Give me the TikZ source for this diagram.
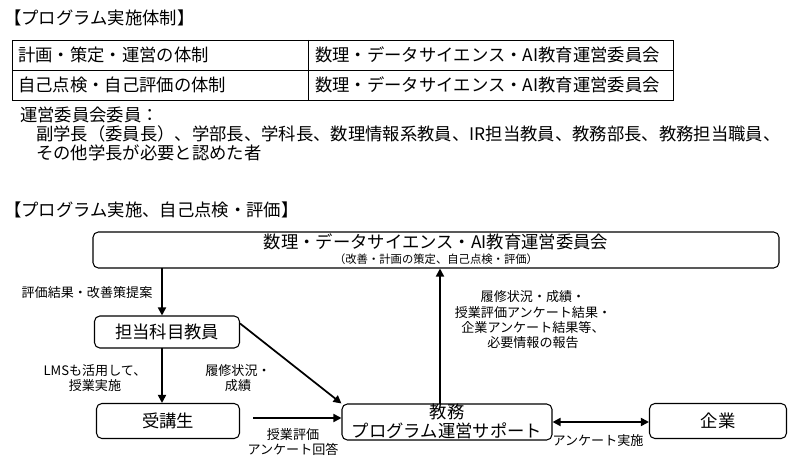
\documentclass[tikz,border=0pt]{standalone}
\usepackage{fontspec}
\setmainfont{Noto Sans CJK JP}
\usetikzlibrary{arrows.meta}
\usetikzlibrary{positioning}
\tikzset{
	Box/.style = {draw=black, rounded corners=4pt, thick},
	Flow/.style = {-{Triangle[length=6pt,width=6pt]}, line width=1.3pt},
	Lbl/.style = {font=\fontsize{9.8}{11.5}\selectfont, align=center, inner sep=1pt},
	Txt/.style = {font=\fontsize{13}{15}\selectfont, anchor=west, inner sep=0pt}
}

\begin{document}
\begin{tikzpicture}[x=0.75pt,y=-0.75pt]
	\useasboundingbox (0,0) rectangle (811,463);

	%Structure table
	\node[Txt] (Head1) at (4,18){【プログラム実施体制】};
	\draw (12,40) rectangle (673,100);
	\draw (12,70) -- (673,70);
	\draw (308,40) -- (308,100);
	\node[Txt] (R1a) at (18,55){計画・策定・運営の体制};
	\node[Txt] (R1b) at (315,55){数理・データサイエンス・AI教育運営委員会};
	\node[Txt] (R2a) at (18,85){自己点検・自己評価の体制};
	\node[Txt] (R2b) at (315,85){数理・データサイエンス・AI教育運営委員会};

	%Members
	\node[Txt] (Members) at (20,115){運営委員会委員：};
	\node[Txt] (List1) at (36,134){副学長（委員長）、学部長、学科長、数理情報系教員、IR担当教員、教務部長、教務担当職員、};
	\node[Txt] (List2) at (36,153){その他学長が必要と認めた者};

	%Flow
	\node[Txt] (Head2) at (4,210){【プログラム実施、自己点検・評価】};
	\node[Box, minimum width=686*0.75pt, minimum height=36*0.75pt] (Comm) at (436,250){};
	\node[Txt, anchor=center] (CommT) at (436,242){数理・データサイエンス・AI教育運営委員会};
	\node[Lbl, anchor=center, font=\fontsize{8.5}{10}\selectfont] (CommS) at (436,259){（改善・計画の策定、自己点検・評価）};

	\node[Box, minimum width=145*0.75pt, minimum height=32*0.75pt, font=\fontsize{13}{15}\selectfont] (Teacher) at (167,332){担当科目教員};
	\node[Box, minimum width=143*0.75pt, minimum height=35*0.75pt, font=\fontsize{13}{15}\selectfont] (Student) at (168,421){受講生};
	\node[Box, minimum width=210*0.75pt, minimum height=36*0.75pt] (Office) at (447,422){};
	\node[Txt, anchor=center] (OfficeT) at (447,412){教務};
	\node[Txt, anchor=center] (OfficeS) at (447,431){プログラム運営サポート};
	\node[Box, minimum width=137*0.75pt, minimum height=35*0.75pt, font=\fontsize{13}{15}\selectfont] (Company) at (718,421){企業};

	\draw[Flow] (162,268) -- (Teacher.north -| 162,0);
	\node[Lbl] (L1) at (87,293){評価結果・改善策提案};
	\draw[Flow] (162,348) -- (Student.north -| 162,0);
	\node[Lbl] (L2) at (95,378){LMSも活用して、\\授業実施};
	\draw[Flow] (Teacher.north east) ++(0,8) -- (Office.north west);
	\node[Lbl] (L3) at (238,378){履修状況・\\成績};
	\draw[Flow] (253,418) -- (Office.west |- 0,418);
	\node[Lbl] (L4) at (293,442){授業評価\\アンケート回答};
	\draw[Flow] (440,404) -- (Comm.south -| 440,0);
	\node[Lbl] (L5) at (533,320){履修状況・成績・\\授業評価アンケート結果・\\企業アンケート結果等、\\必要情報の報告};
	\draw[Flow, {Triangle[length=6pt,width=6pt]}-{Triangle[length=6pt,width=6pt]}] (Office.east |- 0,422) -- (Company.west |- 0,422);
	\node[Lbl] (L6) at (598,441){アンケート実施};
\end{tikzpicture}
\end{document}
